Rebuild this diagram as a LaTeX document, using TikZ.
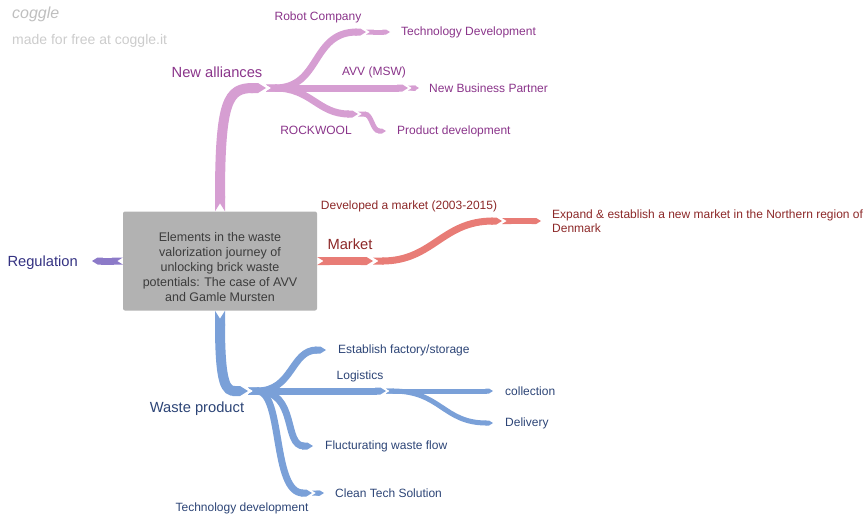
\documentclass[tikz,border=0pt]{standalone}
\usepackage{fontspec}
\setmainfont{Liberation Sans}
\usetikzlibrary{arrows.meta,positioning}

\definecolor{pinkline}{RGB}{214,158,210}
\definecolor{pinktext}{RGB}{138,52,138}
\definecolor{regline}{RGB}{140,122,200}
\definecolor{regtext}{RGB}{52,50,130}
\definecolor{redline}{RGB}{232,124,118}
\definecolor{redtext}{RGB}{140,40,40}
\definecolor{blueline}{RGB}{122,160,216}
\definecolor{bluetext}{RGB}{44,68,118}
\definecolor{boxfill}{RGB}{178,178,178}
\definecolor{boxtext}{RGB}{60,60,60}

\tikzset{
  branch/.style={line width=#1, {Triangle Cap[reversed, length=0pt .8]}-{Triangle Cap[length=0pt .8]}},
  pinkbr/.style={draw=pinkline, branch=#1},
  regbr/.style={draw=regline, branch=#1},
  redbr/.style={draw=redline, branch=#1},
  bluebr/.style={draw=blueline, branch=#1},
  mainlabel/.style={font=\fontsize{14.7}{17}\selectfont, inner sep=0pt},
  sublabel/.style={font=\fontsize{12}{14.4}\selectfont, inner sep=0pt},
  leaf/.style={sublabel, align=left}
}

\begin{document}
\begin{tikzpicture}[x=1pt, y=-1pt,
  centre/.style={fill=boxfill, rounded corners=2pt,
    minimum width=194pt, minimum height=99pt},
  centretext/.style={text=boxtext, align=center, inner sep=0pt,
    font=\fontsize{12.5}{14.8}\selectfont}]
\useasboundingbox (0,0) rectangle (864,520);

% watermark
\node[anchor=west, inner sep=0pt, text=gray!50, font=\fontsize{16}{16}\selectfont\itshape] (logo) at (12,14) {coggle};
\node[anchor=west, inner sep=0pt, text=gray!40, font=\fontsize{14}{16}\selectfont] (made) at (12,41) {made for free at coggle.it};

% central topic
\node[centre] (root) at (220,261) {};
\node[centretext, yshift=-6pt] (roottext) at (root.center) {Elements in the waste\\valorization journey of\\unlocking brick waste\\potentials: The case of AVV\\and Gamle Mursten};

% new alliances
\coordinate (na) at (266,88);
\coordinate (na1) at (366,32);
\coordinate (na1e) at (390,32);
\coordinate (na2) at (408,88);
\coordinate (na2e) at (419,88);
\coordinate (na3) at (358,114);
\coordinate (na3e) at (386,131);
\draw[pinkbr=10pt] (root.north) .. controls (220,100) and (228,88) .. (na);
\draw[pinkbr=7pt] (na) .. controls +(55,0) and +(-55,0) .. (na1);
\draw[pinkbr=5pt] (na1) -- (na1e);
\draw[pinkbr=7pt] (na) -- (na2);
\draw[pinkbr=5pt] (na2) -- (na2e);
\draw[pinkbr=7pt] (na) .. controls +(45,0) and +(-40,0) .. (na3);
\draw[pinkbr=5pt] (na3) .. controls +(14,0) and +(-14,0) .. (na3e);
\node[mainlabel, text=pinktext] (newall) at (217,72) {New alliances};
\node[sublabel, text=pinktext] (robot) at (318,17) {Robot Company};
\node[sublabel, text=pinktext] (avv) at (374,72) {AVV (MSW)};
\node[sublabel, text=pinktext] (rockwool) at (316,130) {ROCKWOOL};
\node[leaf, text=pinktext, right=11pt of na1e] (techdev) {Technology Development};
\node[leaf, text=pinktext, right=10pt of na2e] (newbiz) {New Business Partner};
\node[leaf, text=pinktext, right=11pt of na3e] (proddev) {Product development};

% regulation
\coordinate (reg) at (92,261);
\draw[regbr=7pt] (root.west) -- (reg);
\node[mainlabel, text=regtext, left=14pt of reg, yshift=-1.5pt] (regl) {Regulation};

% market
\coordinate (mk1) at (373,261);
\coordinate (mk2) at (502,221);
\coordinate (mk3) at (541,221);
\draw[redbr=8pt] (root.east) -- (mk1);
\draw[redbr=7pt] (mk1) .. controls +(60,0) and +(-60,0) .. (mk2);
\draw[redbr=6pt] (mk2) -- (mk3);
\node[mainlabel, text=redtext] (market) at (350,244) {Market};
\node[sublabel, text=redtext] (devmk) at (409,206) {Developed a market (2003-2015)};
\node[leaf, text=redtext, right=11pt of mk3] (expand) {Expand \& establish a new market in the Northern region of\\Denmark};

% waste product
\coordinate (wp) at (248,391);
\coordinate (wp1) at (326,350);
\coordinate (wp2) at (386,391);
\coordinate (wp2a) at (493,391);
\coordinate (wp2b) at (493,423);
\coordinate (wp3) at (313,446);
\coordinate (wp4) at (312,493);
\coordinate (wp4e) at (324,493);
\draw[bluebr=10pt] (root.south) .. controls (220,385) and (226,391) .. (wp);
\draw[bluebr=7pt] (wp) .. controls +(45,0) and +(-35,0) .. (wp1);
\draw[bluebr=7pt] (wp) -- (wp2);
\draw[bluebr=5pt] (wp2) -- (wp2a);
\draw[bluebr=5pt] (wp2) .. controls +(55,0) and +(-50,0) .. (wp2b);
\draw[bluebr=7pt] (wp) .. controls +(50,0) and +(-30,0) .. (wp3);
\draw[bluebr=7pt] (wp) .. controls +(35,0) and +(-40,0) .. (wp4);
\draw[bluebr=5pt] (wp4) -- (wp4e);
\node[mainlabel, text=bluetext] (waste) at (197,409) {Waste product};
\node[sublabel, text=bluetext] (logist) at (360,376) {Logistics};
\node[sublabel, text=bluetext] (techdv) at (242,508) {Technology development};
\node[leaf, text=bluetext, right=12pt of wp1] (factory) {Establish factory/storage};
\node[leaf, text=bluetext, right=12pt of wp2a] (collect) {collection};
\node[leaf, text=bluetext, right=12pt of wp2b] (deliv) {Delivery};
\node[leaf, text=bluetext, right=12pt of wp3] (fluct) {Flucturating waste flow};
\node[leaf, text=bluetext, right=11pt of wp4e] (clean) {Clean Tech Solution};
\end{tikzpicture}
\end{document}
